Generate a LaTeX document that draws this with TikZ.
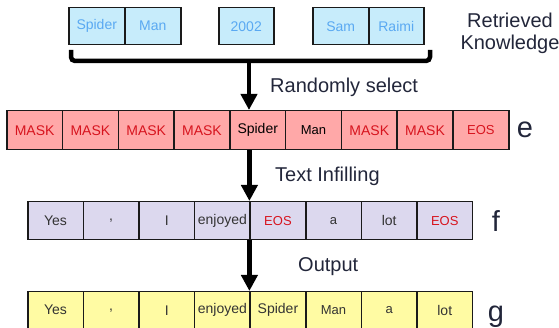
\documentclass[tikz,border=0pt]{standalone}
\usepackage{fontspec}
\setmainfont{Liberation Sans}
\usetikzlibrary{arrows.meta}
\definecolor{kbfill}{HTML}{C7ECFB}
\definecolor{kbtext}{HTML}{5AA9F2}
\definecolor{efill}{HTML}{FFA8A8}
\definecolor{redtext}{HTML}{D7141E}
\definecolor{ffill}{HTML}{DCD8EE}
\definecolor{gfill}{HTML}{FFFBA3}
\definecolor{celltext}{HTML}{333333}
\definecolor{cellline}{HTML}{1A1A1A}
\definecolor{labeltext}{HTML}{22263A}
\begin{document}
\begin{tikzpicture}[x=1pt,y=-1pt,
  cell/.style={draw=cellline, line width=1.5pt, inner sep=0pt, anchor=north west,
    font=\fontsize{14}{14}\selectfont, text=celltext},
  kb/.style={cell, fill=kbfill, text=kbtext, minimum width=56pt, minimum height=37pt},
  ecell/.style={cell, fill=efill, minimum width=55.78pt, minimum height=39pt},
  fcell/.style={cell, fill=ffill, minimum width=55.6pt, minimum height=38pt},
  gcell/.style={cell, fill=gfill, minimum width=55.6pt, minimum height=37pt},
  red/.style={text=redtext},
  small/.style={font=\fontsize{13}{13}\selectfont},
  lbl/.style={text=labeltext, font=\fontsize{20}{22}\selectfont, inner sep=0pt},
  big/.style={text=labeltext, font=\fontsize{29}{29}\selectfont, inner sep=0pt, anchor=base},
  arr/.style={line width=4.5pt, -{Triangle[length=16pt,width=16pt]}},
  brace/.style={line width=4.5pt, rounded corners=4pt}]
\useasboundingbox (0,0) rectangle (559,328);

% retrieved knowledge
\node[kb] (k1) at (68,7) {Spider};
\node[kb] (k2) at (124,7) {Man};
\node[kb, minimum width=55pt] (k3) at (218,7) {2002};
\node[kb] (k4) at (312,7) {Sam};
\node[kb, minimum width=55pt] (k5) at (368,7) {Raimi};
\node[lbl, align=center] (rk) at (510,33) {Retrieved\\Knowledge};

% row e
\node[ecell, red] (e1) at (6,110) {MASK};
\node[ecell, red] (e2) at (61.78,110) {MASK};
\node[ecell, red] (e3) at (117.56,110) {MASK};
\node[ecell, red] (e4) at (173.33,110) {MASK};
\node[ecell, text=black] (e5) at (229.11,110) {Spider};
\node[ecell, small, text=black] (e6) at (284.89,110) {Man};
\node[ecell, red] (e7) at (340.67,110) {MASK};
\node[ecell, red] (e8) at (396.44,110) {MASK};
\node[ecell, red, small] (e9) at (452.22,110) {EOS};
\node[big] (le) at (525,138) {e};

% row f
\node[fcell] (f1) at (27,201) {Yes};
\node[fcell] (f2) at (82.6,201) {,};
\node[fcell] (f3) at (138.2,201) {I};
\node[fcell] (f4) at (193.8,201) {enjoyed};
\node[fcell, red, small] (f5) at (249.4,201) {EOS};
\node[fcell, small] (f6) at (305,201) {a};
\node[fcell] (f7) at (360.6,201) {lot};
\node[fcell, red, small] (f8) at (416.2,201) {EOS};
\node[big] (lf) at (496,232) {f};

% row g
\node[gcell] (g1) at (27,291) {Yes};
\node[gcell] (g2) at (82.6,291) {,};
\node[gcell] (g3) at (138.2,291) {I};
\node[gcell] (g4) at (193.8,291) {enjoyed};
\node[gcell] (g5) at (249.4,291) {Spider};
\node[gcell, small] (g6) at (305,291) {Man};
\node[gcell, small] (g7) at (360.6,291) {a};
\node[gcell] (g8) at (416.2,291) {lot};
\node[big] (lg) at (496,322) {g};

% bracket and arrows
\coordinate (bl) at (71,50);
\coordinate (br) at (430,50);
\coordinate (bk) at (249,61);
\draw[brace] (bl) -- (bl |- bk) -- (br |- bk) -- (br);
\draw[arr] (bk) -- (bk |- e5.north);
\draw[arr] (f5.north west |- e5.south) -- (f5.north west);
\draw[arr] (f5.south west) -- (g5.north west);

\node[lbl, anchor=base west] (t1) at (270,93) {Randomly select};
\node[lbl, anchor=base west] (t2) at (275,182) {Text Infilling};
\node[lbl, anchor=base west] (t3) at (298,272) {Output};
\end{tikzpicture}
\end{document}
